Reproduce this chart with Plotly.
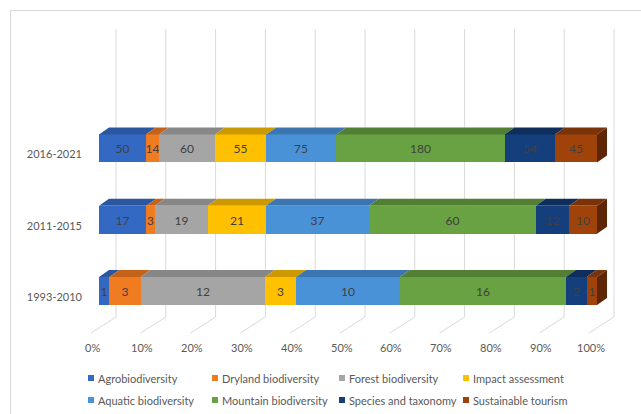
import plotly.graph_objects as go

# Periods (bottom to top) and number of studies per theme
periods = ["1993-2010", "2011-2015", "2016-2021"]
series_names = [
    "Agrobiodiversity", "Dryland biodiversity", "Forest biodiversity", "Impact assessment",
    "Aquatic biodiversity", "Mountain biodiversity", "Species and taxonomy", "Sustainable tourism",
]
agrobiodiversity = [1, 17, 50]
dryland = [3, 3, 14]
forest = [12, 19, 60]
impact = [3, 21, 55]
aquatic = [10, 37, 75]
mountain = [16, 60, 180]
species = [2, 12, 54]
tourism = [1, 10, 45]
series_values = [agrobiodiversity, dryland, forest, impact, aquatic, mountain, species, tourism]

x_ticks = list(range(0, 101, 10))

front_colors = ["#3469c3", "#f07c22", "#a5a5a5", "#ffc000", "#4a92d8", "#68a242", "#153f7c", "#a0430a"]
top_colors = ["#2b56a0", "#c4621a", "#878787", "#cc9a00", "#3c76b0", "#527f34", "#0f2e5c", "#7a3308"]
side_color = "#5e2606"

FONT = "Lato, 'Open Sans', sans-serif"

# Pixel geometry of the plotting area (used to express the 3-D offsets in data units)
W, H = 641, 414
PL, PR, PT, PB = 86, 630, 20, 340
PX_PER_PCT = 4.98
ZERO_PX = 99
PX_PER_CAT = 71.3
CAT0_PX = 291

x_range = [(PL - ZERO_PX) / PX_PER_PCT, (PR - ZERO_PX) / PX_PER_PCT]
y_range = [(CAT0_PX - PB) / PX_PER_CAT, (CAT0_PX - PT) / PX_PER_CAT]

def dx(px):
    return px / PX_PER_PCT

def dy(px):
    return px / PX_PER_CAT

def paper_x(px):
    return (px - PL) / (PR - PL)

def paper_y(py):
    return (PB - py) / (PB - PT)

BAR_W = 28 / PX_PER_CAT
DEPTH_X, DEPTH_Y = dx(10), dy(7)
WALL_X = dx(17)
FRONT_X = dx(-8)
WALL_TOP = dy(CAT0_PX - 29)
WALL_BOTTOM = dy(CAT0_PX - 317)
FLOOR_FRONT = dy(CAT0_PX - 333)

ypos = list(range(len(periods)))
totals = [sum(v[i] for v in series_values) for i in ypos]
shares = [[100.0 * v[i] / totals[i] for i in ypos] for v in series_values]

fig = go.Figure()

# Front faces of the stacked bars
for name, share, vals, col in zip(series_names, shares, series_values, front_colors):
    fig.add_trace(go.Bar(
        y=ypos, x=share, orientation="h", name=name, width=BAR_W,
        marker=dict(color=col, line=dict(width=0)),
        text=[str(v) for v in vals], textposition="inside", insidetextanchor="middle",
        constraintext="none",
        textfont=dict(family=FONT, size=12, color="#404040"),
        showlegend=False, hoverinfo="skip",
    ))

# Top faces (and the right-hand side face) giving the bars their depth
cum = [0.0] * len(ypos)
for k, (share, col) in enumerate(zip(shares, top_colors)):
    xs, ys = [], []
    for i in ypos:
        x0, x1 = cum[i], cum[i] + share[i]
        yt = i + BAR_W / 2
        xs += [x0, x1, x1 + DEPTH_X, x0 + DEPTH_X, x0, None]
        ys += [yt, yt, yt + DEPTH_Y, yt + DEPTH_Y, yt, None]
        cum[i] = x1
    fig.add_trace(go.Scatter(x=xs, y=ys, mode="lines", fill="toself", fillcolor=col,
                             line=dict(width=0, color=col), showlegend=False, hoverinfo="skip"))

xs, ys = [], []
for i in ypos:
    yb, yt = i - BAR_W / 2, i + BAR_W / 2
    xs += [100, 100 + DEPTH_X, 100 + DEPTH_X, 100, 100, None]
    ys += [yb, yb + DEPTH_Y, yt + DEPTH_Y, yt, yb, None]
fig.add_trace(go.Scatter(x=xs, y=ys, mode="lines", fill="toself", fillcolor=side_color,
                         line=dict(width=0, color=side_color), showlegend=False, hoverinfo="skip"))

shapes = []
# Back-wall gridlines and floor lines
for t in x_ticks:
    shapes.append(dict(type="line", xref="x", yref="y", layer="below",
                       x0=t + WALL_X, x1=t + WALL_X, y0=WALL_BOTTOM, y1=WALL_TOP,
                       line=dict(color="#d9d9d9", width=1)))
    shapes.append(dict(type="line", xref="x", yref="y", layer="below",
                       x0=t + WALL_X, x1=t + FRONT_X, y0=WALL_BOTTOM, y1=FLOOR_FRONT,
                       line=dict(color="#d9d9d9", width=1)))

# Chart area border
shapes.append(dict(type="rect", xref="paper", yref="paper", layer="below",
                   x0=paper_x(10.5), x1=paper_x(660), y0=paper_y(430), y1=paper_y(10.5),
                   line=dict(color="#d9d9d9", width=1)))

annotations = []
# Percentage labels along the front edge of the floor
for t in x_ticks:
    annotations.append(dict(x=paper_x(ZERO_PX + t * PX_PER_PCT - 6.5), y=paper_y(347),
                            xref="paper", yref="paper",
                            text=f"{t}%", showarrow=False, xanchor="center", yanchor="middle",
                            font=dict(family=FONT, size=11, color="#595959")))

# Legend: two rows of four entries
col_px = [88, 212, 339, 463]
row_px = [378, 400]
for k, (name, col) in enumerate(zip(series_names, front_colors)):
    cx = col_px[k % 4]
    cy = row_px[k // 4]
    shapes.append(dict(type="rect", xref="paper", yref="paper",
                       x0=paper_x(cx), x1=paper_x(cx + 6), y0=paper_y(cy + 3), y1=paper_y(cy - 3),
                       fillcolor=col, line=dict(width=0)))
    annotations.append(dict(x=paper_x(cx + 8), y=paper_y(cy), xref="paper", yref="paper",
                            text=name, showarrow=False, xanchor="left", yanchor="middle",
                            font=dict(family=FONT, size=11, color="#595959")))

fig.update_layout(
    width=W, height=H,
    margin=dict(l=PL, r=W - PR, t=PT, b=H - PB),
    barmode="stack", bargap=0,
    plot_bgcolor="white", paper_bgcolor="white",
    xaxis=dict(range=x_range, showgrid=False, zeroline=False, showticklabels=False,
               showline=False, fixedrange=True),
    yaxis=dict(range=y_range, showgrid=False, zeroline=False, showline=False,
               tickvals=[i - dy(6) for i in ypos], ticktext=periods, ticks="",
               ticklabelstandoff=3,
               tickfont=dict(family=FONT, size=11, color="#595959")),
    shapes=shapes, annotations=annotations,
    showlegend=False,
)

fig.write_html("out.html")
